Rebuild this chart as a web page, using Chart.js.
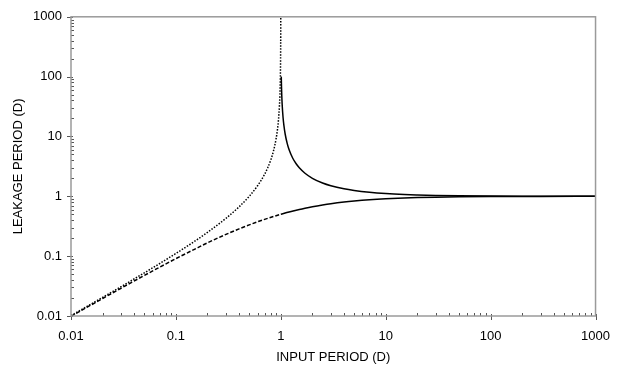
<!DOCTYPE html>
<html><head><meta charset="utf-8">
<script src="https://cdn.jsdelivr.net/npm/chart.js@4/dist/chart.umd.min.js"></script>
<style>html,body{margin:0;padding:0;background:#fff}#wrap{width:623px;height:367px}</style>
</head><body><div id="wrap"><canvas id="c" width="623" height="367"></canvas></div>
<script>
// Dotted branch (input period below 1)
const dottedX = [0.01,0.02,0.03,0.05,0.07,0.1,0.15,0.2,0.3,0.4,0.5,0.6,0.7,0.75,0.8,0.85,0.9,0.93,0.95,0.97,0.98,0.99,0.995,0.998,0.999];
const dottedY = [0.0101,0.0204,0.0309,0.0526,0.0753,0.111,0.176,0.25,0.429,0.667,1.0,1.5,2.33,3.0,4.0,5.67,9.0,13.3,19.0,32.3,49.0,99.0,199,499,999];
// Upper solid branch (input period above 1)
const upperX = [1.0101,1.015,1.02,1.03,1.05,1.07,1.1,1.15,1.2,1.3,1.4,1.5,1.7,2,2.5,3,4,5,7,10,15,20,30,50,100,200,500,1000];
const upperY = [100,68.7,51,34.3,21,15.3,11,7.67,6,4.33,3.5,3,2.43,2,1.667,1.5,1.333,1.25,1.167,1.111,1.071,1.053,1.034,1.020,1.010,1.005,1.002,1.001];
// Lower dashed branch
const dashedX = [0.01,0.02,0.03,0.05,0.07,0.1,0.15,0.2,0.3,0.4,0.5,0.6,0.7,0.85,1];
const dashedY = [0.0099,0.0196,0.0291,0.0476,0.0654,0.0909,0.130,0.167,0.231,0.286,0.333,0.375,0.412,0.459,0.5];
// Lower solid branch
const lowerX = [1,1.2,1.5,1.7,2,2.5,3,4,5,7,10,15,20,30,50,100,300,1000];
const lowerY = [0.5,0.545,0.6,0.63,0.667,0.714,0.75,0.8,0.833,0.875,0.909,0.9375,0.952,0.968,0.980,0.990,0.997,0.999];

const tickValues = [0.01,0.1,1,10,100,1000];
const tickLabels = ['0.01','0.1','1','10','100','1000'];
const xTitle = 'INPUT PERIOD (D)';
const yTitle = 'LEAKAGE PERIOD (D)';

const pts = (xs, ys) => xs.map((x,i) => ({x, y: ys[i]}));
const FONT = {family: '"Liberation Sans", Arial, sans-serif', size: 13};

const frameTicks = {
  id: 'frameTicks',
  afterDraw(chart) {
    const ctx = chart.ctx, a = chart.chartArea;
    const xs = chart.scales.x, ys = chart.scales.y;
    ctx.save();
    ctx.strokeStyle = '#555';
    ctx.lineWidth = 1;
    for (let d = 0.01; d < 1001; d *= 10) {
      for (let m = 1; m <= 9; m++) {
        const v = d * m;
        if (v > 1000.001) break;
        const px = Math.round(xs.getPixelForValue(v)) + 0.5;
        ctx.beginPath();
        if (m === 1) { ctx.moveTo(px, a.bottom - 2); ctx.lineTo(px, a.bottom + 4); }
        else { ctx.moveTo(px, a.bottom); ctx.lineTo(px, a.bottom - 3); }
        ctx.stroke();
        const py = Math.round(ys.getPixelForValue(v)) + 0.5;
        ctx.beginPath();
        if (m === 1) { ctx.moveTo(a.left - 4, py); ctx.lineTo(a.left + 2, py); }
        else { ctx.moveTo(a.left, py); ctx.lineTo(a.left + 3, py); }
        ctx.stroke();
      }
    }
    ctx.strokeStyle = '#9a9a9a';
    ctx.lineWidth = 1.5;
    ctx.strokeRect(a.left, a.top, a.right - a.left, a.bottom - a.top);
    ctx.restore();
  }
};

const line = (data, dash) => ({
  data, showLine: true, pointRadius: 0, borderColor: '#000', borderWidth: 1.5,
  borderDash: dash, cubicInterpolationMode: 'monotone', fill: false
});

new Chart(document.getElementById('c'), {
  type: 'scatter',
  data: {
    datasets: [
      line(pts(dottedX, dottedY), [1.5, 1.5]),
      line(pts(upperX, upperY), []),
      line(pts(dashedX, dashedY), [4, 2]),
      line(pts(lowerX, lowerY), [])
    ]
  },
  options: {
    responsive: false,
    animation: false,
    layout: {padding: {left: 0, right: 27, top: 15, bottom: 0}},
    plugins: {legend: {display: false}, tooltip: {enabled: false}},
    scales: {
      x: {
        type: 'logarithmic', min: 0.01, max: 1000,
        afterBuildTicks: s => { s.ticks = tickValues.map(v => ({value: v})); },
        afterFit: s => { s.height = 51; },
        grid: {display: false, drawTicks: false, tickLength: 0},
        border: {display: false},
        ticks: {
          color: '#000', font: FONT, padding: 13, maxRotation: 0, autoSkip: false,
          callback: v => { const i = tickValues.findIndex(t => Math.abs(t - v) / t < 1e-6); return i >= 0 ? tickLabels[i] : ''; }
        },
        title: {display: true, text: xTitle, color: '#000', font: FONT, padding: {top: 4, bottom: 2}}
      },
      y: {
        type: 'logarithmic', min: 0.01, max: 1000,
        afterBuildTicks: s => { s.ticks = tickValues.map(v => ({value: v})); },
        afterFit: s => { s.width = 71; },
        grid: {display: false, drawTicks: false, tickLength: 0},
        border: {display: false},
        ticks: {
          color: '#000', font: FONT, padding: 9, autoSkip: false,
          callback: v => { const i = tickValues.findIndex(t => Math.abs(t - v) / t < 1e-6); return i >= 0 ? tickLabels[i] : ''; }
        },
        title: {display: true, text: yTitle, color: '#000', font: FONT, padding: {top: 11, bottom: 0}}
      }
    }
  },
  plugins: [frameTicks]
});
</script>
</body></html>
